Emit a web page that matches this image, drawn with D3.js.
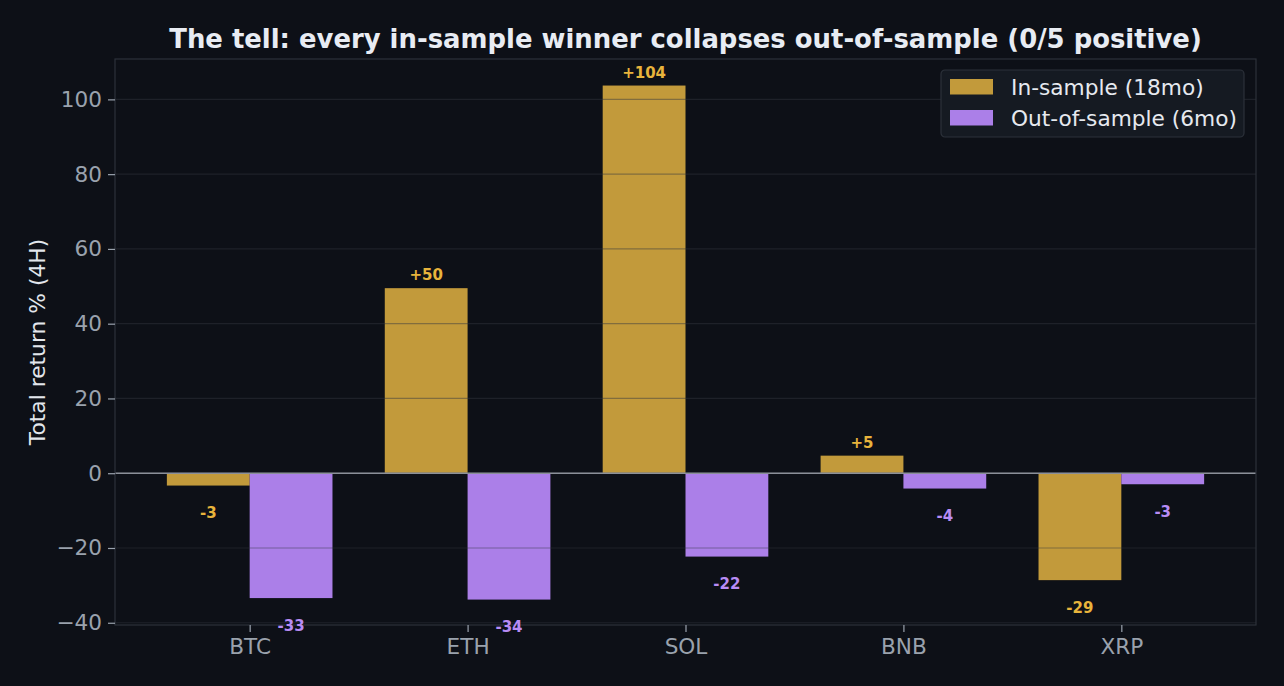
<!DOCTYPE html>
<html>
<head>
<meta charset="utf-8">
<script src="https://cdn.jsdelivr.net/npm/d3@7"></script>
<style>
  html, body { margin: 0; padding: 0; background: #0d1017; }
  svg { display: block; font-family: "DejaVu Sans", sans-serif; }
</style>
</head>
<body>
<svg id="chart" width="1284" height="686"></svg>
<script>
// data
let coins = ['BTC', 'ETH', 'SOL', 'BNB', 'XRP']
let inSample = [-3.3, 49.5, 103.7, 4.7, -28.6]
let outSample = [-33.4, -33.8, -22.3, -4.1, -2.95]
let yTicks = [-40, -20, 0, 20, 40, 60, 80, 100]
let seriesNames = ['In-sample (18mo)', 'Out-of-sample (6mo)']

let width = 1284, height = 686
let margin = {top: 59, right: 28, bottom: 61, left: 115}
let barWidth = 0.38
let barColors = ['#c29a3b', '#ab7fe8']
let labelColors = ['#e8b43c', '#b88cf4']

let svg = d3.select('#chart')
svg.append('rect').attr('width', width).attr('height', height).attr('fill', '#0d1017')

let x = d3.scaleLinear()
  .domain([-0.618, coins.length - 1 + 0.618])
  .range([margin.left, width - margin.right])
let y = d3.scaleLinear()
  .domain([-40.6, 110.8])
  .range([height - margin.bottom, margin.top])

let series = [inSample, outSample]
let bars = []
series.forEach(function (vals, s) {
  vals.forEach(function (v, i) {
    bars.push({s: s, i: i, v: v, x0: i - barWidth + s * barWidth})
  })
})

// bars
svg.append('g')
  .selectAll('rect')
  .data(bars)
  .join('rect')
  .attr('x', function (d) { return x(d.x0) })
  .attr('width', function (d) { return x(d.x0 + barWidth) - x(d.x0) })
  .attr('y', function (d) { return y(Math.max(0, d.v)) })
  .attr('height', function (d) { return Math.abs(y(d.v) - y(0)) })
  .attr('fill', function (d) { return barColors[d.s] })

// grid (drawn above the bars, like the original)
svg.append('g')
  .selectAll('line')
  .data(yTicks)
  .join('line')
  .attr('x1', x.range()[0])
  .attr('x2', x.range()[1])
  .attr('y1', function (d) { return y(d) })
  .attr('y2', function (d) { return y(d) })
  .attr('stroke', 'rgb(51,56,64)')
  .attr('stroke-opacity', 0.45)
  .attr('stroke-width', 1.2)

// zero line
svg.append('line')
  .attr('x1', x.range()[0]).attr('x2', x.range()[1])
  .attr('y1', y(0)).attr('y2', y(0))
  .attr('stroke', '#8b9099').attr('stroke-width', 1.6)

// frame
svg.append('rect')
  .attr('x', x.range()[0]).attr('y', y.range()[1])
  .attr('width', x.range()[1] - x.range()[0])
  .attr('height', y.range()[0] - y.range()[1])
  .attr('fill', 'none').attr('stroke', '#2c313a').attr('stroke-width', 1.2)

// axes
let fmt = function (d) { return d < 0 ? '\u2212' + Math.abs(d) : String(d) }
let yAxis = svg.append('g')
  .attr('transform', 'translate(' + margin.left + ',0)')
  .call(d3.axisLeft(y).tickValues(yTicks).tickFormat(fmt).tickSize(7).tickSizeOuter(0).tickPadding(6))
let xAxis = svg.append('g')
  .attr('transform', 'translate(0,' + (height - margin.bottom) + ')')
  .call(d3.axisBottom(x).tickValues(d3.range(coins.length)).tickFormat(function (d) { return coins[d] })
    .tickSize(7).tickSizeOuter(0).tickPadding(7))
;[yAxis, xAxis].forEach(function (g) {
  g.select('.domain').remove()
  g.selectAll('.tick line').attr('stroke', '#9aa2ad').attr('stroke-width', 1.2)
  g.selectAll('.tick text')
    .attr('fill', '#9aa2ad')
    .style('font-size', '21.6px')
    .style('font-family', '"DejaVu Sans", sans-serif')
})

// value labels
svg.append('g')
  .selectAll('text')
  .data(bars)
  .join('text')
  .attr('x', function (d) { return x(d.x0 + barWidth / 2) })
  .attr('y', function (d) { return d.v >= 0 ? y(d.v) - 8 : y(d.v) + 32.5 })
  .attr('text-anchor', 'middle')
  .attr('fill', function (d) { return labelColors[d.s] })
  .style('font-size', '15px')
  .style('font-weight', 'bold')
  .text(function (d) { let r = Math.round(d.v); return (r >= 0 ? '+' : '-') + Math.abs(r) })

// y label
svg.append('text')
  .attr('transform', 'translate(45,' + ((y.range()[0] + y.range()[1]) / 2) + ') rotate(-90)')
  .attr('text-anchor', 'middle')
  .attr('fill', '#e2e6ec')
  .style('font-size', '21.8px')
  .text('Total return % (4H)')

// title
svg.append('text')
  .attr('x', (x.range()[0] + x.range()[1]) / 2)
  .attr('y', 48)
  .attr('text-anchor', 'middle')
  .attr('fill', '#e8ecf3')
  .style('font-size', '25.9px')
  .style('font-weight', 'bold')
  .text('The tell: every in-sample winner collapses out-of-sample (0/5 positive)')

// legend
let legend = svg.append('g').attr('transform', 'translate(941,70)')
legend.append('rect')
  .attr('width', 303).attr('height', 67).attr('rx', 4)
  .attr('fill', '#151a22').attr('stroke', '#2c313a').attr('stroke-width', 1.2)
let rows = legend.selectAll('g.row')
  .data(seriesNames)
  .join('g')
  .attr('class', 'row')
  .attr('transform', function (d, i) { return 'translate(0,' + (i * 31) + ')' })
rows.append('rect')
  .attr('x', 9).attr('y', 9).attr('width', 43).attr('height', 15.5)
  .attr('fill', function (d, i) { return barColors[i] })
rows.append('text')
  .attr('x', 70).attr('y', 24.5)
  .attr('fill', '#e6e9ef')
  .style('font-size', '21.7px')
  .text(function (d) { return d })
</script>
</body>
</html>
